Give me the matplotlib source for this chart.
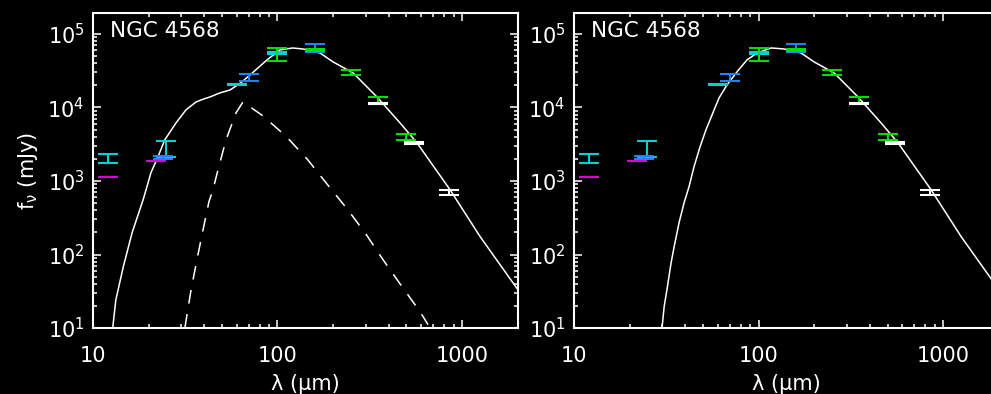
import matplotlib.pyplot as plt
import numpy as np

# photometry: wavelength (micron), flux density (mJy), error (mJy)
iras_wl = [12, 25, 60, 100]
iras_f = [2050, 2850, 20700, 54700]
iras_err = [270, 700, 300, 1500]

mips_wl = [24, 70, 160]
mips_f = [2100, 25900, 64400]
mips_err = [100, 2700, 8000]

wise_wl = [12, 22]
wise_f = [1140, 1900]
wise_err = [0, 0]

herschel_wl = [100, 160, 250, 350, 500]
herschel_f = [53600, 60600, 30000, 12500, 4000]
herschel_err = [10300, 1000, 2000, 1300, 380]

planck_wl = [350, 550, 850]
planck_f = [11200, 3270, 700]
planck_err = [150, 100, 63]

# model curves
total_wl = [12.8, 13.3, 14.6, 16.3, 18.7, 19.4, 20.6, 22.5, 24.5, 28.2, 31.9, 36.2,
            40.0, 43.0, 48.8, 55.3, 63.0, 71.0, 87.7, 103, 121, 137, 170, 200, 257,
            346, 461, 570, 861, 1253, 2010]
total_f = [10.1, 24, 68, 198, 556, 760, 1290, 2130, 3630, 6180, 9270, 11900,
           13100, 13900, 15800, 17300, 21500, 27700, 44400, 60700, 64500, 62600,
           55200, 41700, 29500, 13900, 6180, 3300, 760, 175, 33]

warm_wl = [31.5, 34.0, 36.6, 39.5, 42.5, 44.7, 47.6, 52.6, 59.6, 65.0, 83.4, 112,
           146, 185, 238, 298, 373, 473, 592, 654]
warm_f = [10.1, 33, 85, 217, 522, 760, 1420, 3630, 8450, 11900, 7690, 3990,
          1940, 916, 419, 198, 85, 36.5, 16.7, 11.1]

cold_wl = [30.0, 30.8, 31.9, 33.6, 34.9, 37.1, 39.5, 42.0, 44.7, 48.2, 51.9, 56.0,
           61.1, 67.5, 76.4, 86.6, 98.2, 117, 137, 170, 200, 257, 346, 461, 570,
           861, 1253, 2010]
cold_f = [10.1, 19.5, 33.3, 77.4, 128, 271, 506, 834, 1560, 2920, 4970, 7930,
          13500, 20300, 30500, 44400, 55200, 64600, 62600, 55200, 41700, 29500,
          13900, 6180, 3300, 760, 175, 33]

CYAN = '#00d2d2'
BLUE = '#1e82ff'
GREEN = '#00e000'
MAGENTA = '#e000d0'

plt.rcParams['font.size'] = 15
plt.rcParams['mathtext.default'] = 'regular'

fig = plt.figure(figsize=(9.91, 3.94), dpi=100, facecolor='black')
ax1 = fig.add_axes([0.0938, 0.1675, 0.4289, 0.7995])
ax2 = fig.add_axes([0.5792, 0.1675, 0.4289, 0.7995])


def draw_points(ax):
    kw = dict(fmt='none', capsize=7.5, elinewidth=1.5, capthick=1.5)
    ax.errorbar(wise_wl, wise_f, yerr=wise_err, ecolor=MAGENTA, **kw)
    ax.errorbar(iras_wl, iras_f, yerr=iras_err, ecolor=CYAN, **kw)
    ax.errorbar(mips_wl, mips_f, yerr=mips_err, ecolor=BLUE, **kw)
    ax.errorbar(herschel_wl, herschel_f, yerr=herschel_err, ecolor=GREEN, **kw)
    ax.errorbar(planck_wl, planck_f, yerr=planck_err, ecolor='white', **kw)


def style(ax):
    ax.set_facecolor('black')
    ax.set_xscale('log')
    ax.set_yscale('log')
    ax.set_xlim(10, 2010)
    ax.set_ylim(10, 1.93e5)
    for s in ax.spines.values():
        s.set_color('white')
        s.set_linewidth(1.5)
    ax.tick_params(which='both', direction='in', colors='white',
                   top=True, right=True, width=1.1)
    ax.tick_params(which='major', length=6)
    ax.tick_params(which='minor', length=3)
    ax.tick_params(axis='x', pad=13)
    ax.tick_params(axis='y', pad=6)
    ax.set_xticks([10, 100, 1000])
    ax.set_xticklabels(['10', '100', '1000'])
    ax.set_xlabel('λ (μm)', color='white', labelpad=6)
    ax.text(0.04, 0.975, 'NGC 4568', transform=ax.transAxes, color='white',
            fontsize=15.5, va='top', ha='left')


ax1.plot(total_wl, total_f, color='white', lw=1.1)
ax1.plot(warm_wl, warm_f, color='white', lw=1.1, dashes=(9, 7))
draw_points(ax1)
style(ax1)
ax1.set_ylabel(r'f$_\nu$ (mJy)', color='white', labelpad=5)

ax2.plot(cold_wl, cold_f, color='white', lw=1.1)
draw_points(ax2)
style(ax2)

fig.savefig('out.png', dpi=100, facecolor='black')
